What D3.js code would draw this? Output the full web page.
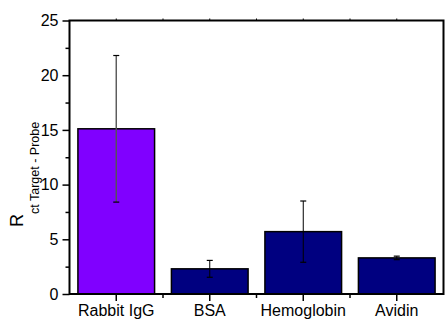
<!DOCTYPE html>
<html>
<head>
<meta charset="utf-8">
<script src="https://cdn.jsdelivr.net/npm/d3@7"></script>
<style>
  body { margin: 0; background: #fff; }
  text { font-family: "Liberation Sans", Arial, sans-serif; fill: #000; }
</style>
</head>
<body>
<div id="chart"></div>
<script>
var categories = ["Rabbit IgG", "BSA", "Hemoglobin", "Avidin"];
var values = [15.1, 2.3, 5.7, 3.3];
var errors = [6.7, 0.77, 2.8, 0.16];
var barColors = ["#8000ff", "#000080", "#000080", "#000080"];
var yTicks = [0, 5, 10, 15, 20, 25];
var yMinor = [2.5, 7.5, 12.5, 17.5, 22.5];

var width = 445, height = 320;
var margin = {top: 20.5, right: 1.5, bottom: 26, left: 69.5};

var svg = d3.select("#chart").append("svg")
  .attr("width", width)
  .attr("height", height);

var x = d3.scaleBand()
  .domain(categories)
  .range([margin.left, width - margin.right])
  .paddingInner(0.18)
  .paddingOuter(0.09);

var y = d3.scaleLinear()
  .domain([0, 25])
  .range([height - margin.bottom, margin.top]);

var data = categories.map((c, i) => ({name: c, value: values[i], err: errors[i], colour: barColors[i]}));

// bars
svg.selectAll("rect.bar")
  .data(data)
  .enter()
  .append("rect")
  .attr("class", "bar")
  .attr("x", d => x(d.name))
  .attr("y", d => y(d.value))
  .attr("width", x.bandwidth())
  .attr("height", d => y(0) - y(d.value))
  .style("fill", d => d.colour)
  .style("stroke", "#000")
  .style("stroke-width", 1.5);

// error bars
var cx = d => x(d.name) + x.bandwidth() / 2;
var eb = svg.selectAll("g.err").data(data).enter().append("g").attr("class", "err");
eb.append("line")
  .attr("x1", cx).attr("x2", cx)
  .attr("y1", d => y(d.value + d.err))
  .attr("y2", d => y(d.value - d.err))
  .style("stroke", (d, i) => i == 0 ? "#555" : "#000")
  .style("stroke-width", (d, i) => i == 0 ? 1.4 : 1);
[1, -1].forEach(s => {
  eb.append("line")
    .attr("x1", d => cx(d) - 3).attr("x2", d => cx(d) + 3)
    .attr("y1", d => y(d.value + s * d.err))
    .attr("y2", d => y(d.value + s * d.err))
    .style("stroke", "#000")
    .style("stroke-width", 1.2);
});

// frame
var x0 = margin.left, x1 = width - margin.right, yb = y(0), yt = y(25);
svg.append("path")
  .attr("d", `M${x0},${yb}V${yt}H${x1}V${yb}Z`)
  .style("fill", "none")
  .style("stroke", "#000")
  .style("stroke-width", 2);

// y axis
var yAxis = d3.axisLeft(y).tickValues(yTicks).tickSize(7).tickPadding(4).tickFormat(d3.format("d"));
var gy = svg.append("g")
  .attr("transform", `translate(${x0},0)`)
  .call(yAxis);
gy.select(".domain").remove();
gy.selectAll(".tick line").style("stroke-width", 1.5);
gy.selectAll(".tick text").style("font-size", "16px").style("font-family", "Liberation Sans, Arial, sans-serif");

var gyMinor = svg.append("g")
  .attr("transform", `translate(${x0},0)`)
  .call(d3.axisLeft(y).tickValues(yMinor).tickSize(4).tickFormat(""));
gyMinor.select(".domain").remove();
gyMinor.selectAll(".tick line").style("stroke-width", 1.5);

// x axis
var gx = svg.append("g")
  .attr("transform", `translate(0,${yb})`)
  .call(d3.axisBottom(x).tickSize(7).tickPadding(4));
gx.select(".domain").remove();
gx.selectAll(".tick line").style("stroke-width", 1.5);
gx.selectAll(".tick text").style("font-size", "16px").style("font-family", "Liberation Sans, Arial, sans-serif");

// minor x ticks at band boundaries
var bounds = categories.slice(1).map(c => x(c) - x.step() * x.paddingInner() / 2);
svg.selectAll("line.xminor")
  .data(bounds)
  .enter()
  .append("line")
  .attr("class", "xminor")
  .attr("x1", d => d).attr("x2", d => d)
  .attr("y1", yb).attr("y2", yb + 4)
  .style("stroke", "#000")
  .style("stroke-width", 1.5);

// top ticks
var topTicks = categories.map(c => x(c) + x.bandwidth() / 2).concat(bounds);
svg.selectAll("line.xtop")
  .data(topTicks)
  .enter()
  .append("line")
  .attr("class", "xtop")
  .attr("x1", d => d).attr("x2", d => d)
  .attr("y1", yt).attr("y2", yt - 2)
  .style("stroke", "#000")
  .style("stroke-width", 1);

// y label
var ylab = svg.append("text")
  .attr("transform", "translate(23,227) rotate(-90)")
  .style("font-size", "18px");
ylab.append("tspan").text("R");
ylab.append("tspan")
  .attr("dy", 16)
  .style("font-size", "12.5px")
  .text("ct Target - Probe");
</script>
</body>
</html>
